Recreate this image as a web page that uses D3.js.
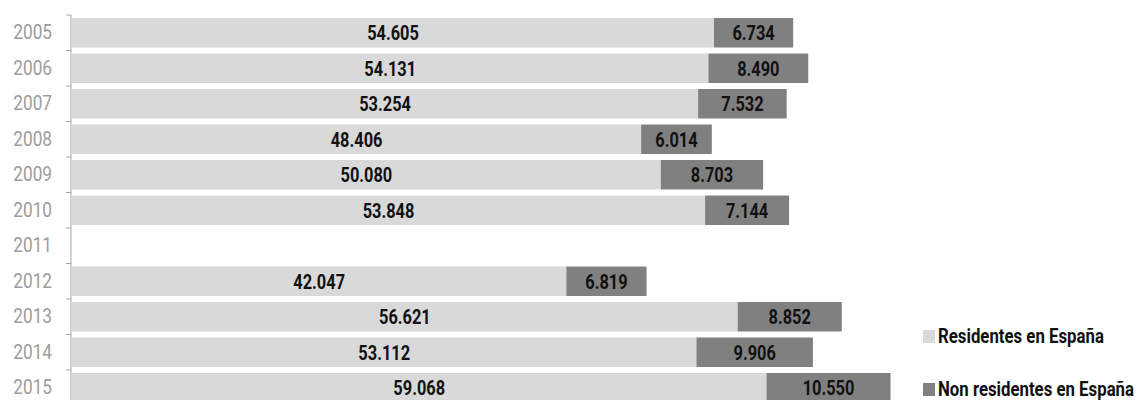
<!DOCTYPE html>
<html>
<head>
<meta charset="utf-8">
<script src="https://cdn.jsdelivr.net/npm/d3@7"></script>
<style>
  body { margin: 0; background: #fff; }
  text { font-family: Roboto, "DejaVu Sans", sans-serif; }
</style>
</head>
<body>
<div id="chart"></div>
<script>
// Data
const years = ['2005', '2006', '2007', '2008', '2009', '2010', '2011', '2012', '2013', '2014', '2015'];
const residentes = [54605, 54131, 53254, 48406, 50080, 53848, null, 42047, 56621, 53112, 59068];
const noResidentes = [6734, 8490, 7532, 6014, 8703, 7144, null, 6819, 8852, 9906, 10550];
const seriesNames = ['Residentes en España', 'Non residentes en España'];
const colors = ['#d9d9d9', '#808080'];

const fmt = d => d3.format(',')(d).replace(/,/g, '.');

const dimensions = {
  width: 1146,
  height: 400,
  axisX: 71,
  top: 15,
  step: 35.5
};

// narrow text: the original uses a condensed face, so squeeze horizontally
const squeeze = 0.78;

const svg = d3.select('#chart')
  .append('svg')
  .attr('width', dimensions.width)
  .attr('height', dimensions.height)

// Scales
const yScale = d3.scaleBand()
  .domain(years)
  .range([dimensions.top, dimensions.top + dimensions.step * years.length])
  .paddingInner(0.17)
  .paddingOuter(0.085)

const xScale = d3.scaleLinear()
  .domain([0, 70000])
  .range([dimensions.axisX + 1, dimensions.axisX + 1 + 823])

const rows = years.map((y, i) => ({ year: y, res: residentes[i], non: noResidentes[i] }))
  .filter(d => d.res != null)

// Bars
const rowG = svg.append('g')
  .selectAll('g')
  .data(rows)
  .join('g')

rowG.append('rect')
  .attr('x', xScale(0))
  .attr('y', d => yScale(d.year))
  .attr('width', d => xScale(d.res) - xScale(0))
  .attr('height', yScale.bandwidth())
  .attr('fill', colors[0])

rowG.append('rect')
  .attr('x', d => xScale(d.res))
  .attr('y', d => yScale(d.year))
  .attr('width', d => xScale(d.res + d.non) - xScale(d.res))
  .attr('height', yScale.bandwidth())
  .attr('fill', colors[1])

// Value labels
const midY = d => yScale(d.year) + yScale.bandwidth() / 2

rowG.append('text')
  .attr('transform', d => `translate(${(xScale(0) + xScale(d.res)) / 2}, ${midY(d)}) scale(${squeeze}, 1)`)
  .attr('dy', '0.36em')
  .attr('text-anchor', 'middle')
  .attr('font-size', '21px')
  .attr('font-weight', 'bold')
  .attr('fill', '#111')
  .text(d => fmt(d.res))

rowG.append('text')
  .attr('transform', d => `translate(${(xScale(d.res) + xScale(d.res + d.non)) / 2}, ${midY(d)}) scale(${squeeze}, 1)`)
  .attr('dy', '0.36em')
  .attr('text-anchor', 'middle')
  .attr('font-size', '21px')
  .attr('font-weight', 'bold')
  .attr('fill', '#111')
  .text(d => fmt(d.non))

// Axis
const yAxis = d3.axisLeft(yScale)
  .tickSize(0)
  .tickPadding(0)

const axisG = svg.append('g')
  .attr('transform', `translate(${dimensions.axisX}, 0)`)
  .call(yAxis)

axisG.select('.domain')
  .attr('stroke', '#a6a6a6')
  .attr('d', `M0,${yScale.range()[0]}V${yScale.range()[1]}`)

axisG.selectAll('.tick text')
  .attr('x', null)
  .attr('transform', 'translate(-19, 0) scale(0.82, 1)')
  .attr('font-family', null)
  .attr('font-size', '21px')
  .attr('fill', '#9c9c9c')

// boundary ticks between categories
const edges = years.map(y => yScale(y) - yScale.step() * yScale.paddingInner() / 2)
  .concat([yScale.range()[1]])

axisG.selectAll('.edge')
  .data(edges)
  .join('line')
  .attr('class', 'edge')
  .attr('x1', -5)
  .attr('x2', 0)
  .attr('y1', d => d)
  .attr('y2', d => d)
  .attr('stroke', '#a6a6a6')

// Legend
const legend = svg.append('g')
  .selectAll('g')
  .data(seriesNames)
  .join('g')
  .attr('transform', (d, i) => `translate(923, ${330 + i * 53})`)

legend.append('rect')
  .attr('width', 12)
  .attr('height', 13)
  .attr('fill', (d, i) => colors[i])

legend.append('text')
  .attr('transform', 'translate(15, 13) scale(0.84, 1)')
  .attr('font-size', '20px')
  .attr('font-weight', 'bold')
  .attr('fill', '#111')
  .text(d => d)
</script>
</body>
</html>
